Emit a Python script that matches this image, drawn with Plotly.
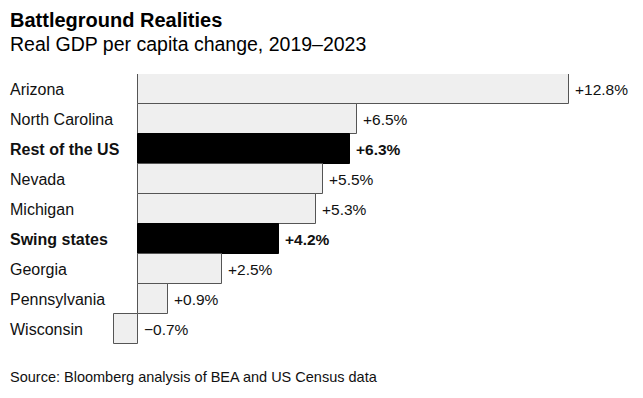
import plotly.graph_objects as go

states = ["Arizona", "North Carolina", "Rest of the US", "Nevada", "Michigan",
          "Swing states", "Georgia", "Pennsylvania", "Wisconsin"]
values = [12.8, 6.5, 6.3, 5.5, 5.3, 4.2, 2.5, 0.9, -0.7]
highlight = [False, False, True, False, False, True, False, False, False]

FONT = "Liberation Sans"
fills = ["#000000" if h else "#efefef" for h in highlight]
lines = ["#000000" if h else "#555555" for h in highlight]

fig = go.Figure(go.Bar(
    x=values, y=states, orientation="h",
    marker=dict(color=fills, line=dict(color=lines, width=1)),
    width=1.0, hoverinfo="skip",
))

L, R = 100, 13
W = 643 - L - R
ppu = (569 - 138) / 12.8
xmin = -(138 - L) / ppu
xmax = xmin + W / ppu

ann = []
for s, v, h in zip(states, values, highlight):
    lab = ("+" if v >= 0 else "\u2212") + f"{abs(v):.1f}%"
    if h:
        lab = "<b>" + lab + "</b>"
        name = "<b>" + s + "</b>"
    else:
        name = s
    ann.append(dict(x=max(v, 0), y=s, xref="x", yref="y", text=lab, showarrow=False,
                    xanchor="left", xshift=4, font=dict(size=15.5, color="#111", family=FONT)))
    ann.append(dict(x=(10 - L) / W, y=s, xref="paper", yref="y", text=name, showarrow=False,
                    xanchor="left", xshift=-2, font=dict(size=16, color="#111", family=FONT)))

ann.append(dict(x=(10 - L) / W, y=1 + (74 - 20) / 270, xref="paper", yref="paper",
                text="<b>Battleground Realities</b>", showarrow=False, xanchor="left", xshift=-2,
                yanchor="middle", font=dict(size=20, color="#000", family=FONT)))
ann.append(dict(x=(10 - L) / W, y=1 + (74 - 44) / 270, xref="paper", yref="paper",
                text="Real GDP per capita change, 2019\u20132023", showarrow=False, xanchor="left",
                xshift=-2, yanchor="middle", font=dict(size=19.5, color="#000", family=FONT)))
ann.append(dict(x=(10 - L) / W, y=-(377 - 344) / 270, xref="paper", yref="paper",
                text="Source: Bloomberg analysis of BEA and US Census data", showarrow=False,
                xanchor="left", xshift=-2, yanchor="middle",
                font=dict(size=14.5, color="#111", family=FONT)))

fig.update_layout(
    width=643, height=398,
    margin=dict(l=L, r=R, t=74, b=54),
    paper_bgcolor="white", plot_bgcolor="white",
    showlegend=False, bargap=0,
    xaxis=dict(range=[xmin, xmax], visible=False, fixedrange=True),
    yaxis=dict(autorange=False, range=[8.5, -0.5], categoryorder="array",
               categoryarray=states, visible=False, fixedrange=True),
    annotations=ann,
    font=dict(family=FONT),
)

fig.write_html("out.html", config={"displayModeBar": False},
               post_script="document.body.style.margin='0';document.body.style.overflow='hidden';")
